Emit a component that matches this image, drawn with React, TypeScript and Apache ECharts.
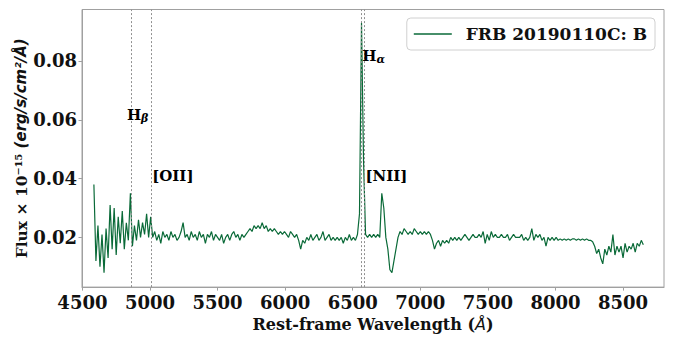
import React, { useEffect, useRef } from 'react';
import * as echarts from 'echarts';

// Spectrum sampling grid (Å) and flux values (10^-15 erg/s/cm^2/Å)
const WAVE_START = 4585;
const WAVE_STEP = 15;
const FLUX = [
  0.038, 0.012, 0.024, 0.010, 0.021, 0.008, 0.023, 0.013, 0.031, 0.016,
  0.030, 0.014, 0.027, 0.018, 0.029, 0.016, 0.025, 0.019, 0.035, 0.017,
  0.024, 0.019, 0.026, 0.020, 0.025, 0.021, 0.028, 0.020, 0.027, 0.020,
  0.022, 0.019, 0.021, 0.018, 0.022, 0.020, 0.021, 0.019, 0.022, 0.020,
  0.021, 0.019, 0.020, 0.022, 0.025, 0.020, 0.021, 0.019, 0.022, 0.020,
  0.021, 0.019, 0.022, 0.020, 0.021, 0.018, 0.021, 0.020, 0.022, 0.019,
  0.021, 0.020, 0.019, 0.021, 0.018, 0.020, 0.021, 0.019, 0.021, 0.022,
  0.020, 0.021, 0.019, 0.021, 0.020, 0.021, 0.022, 0.023, 0.022, 0.024,
  0.023, 0.024, 0.023, 0.025, 0.023, 0.024, 0.022, 0.023, 0.022, 0.023,
  0.022, 0.021, 0.022, 0.021, 0.022, 0.021, 0.020, 0.022, 0.021, 0.020,
  0.021, 0.019, 0.016, 0.019, 0.018, 0.020, 0.019, 0.021, 0.019, 0.020,
  0.021, 0.019, 0.020, 0.022, 0.019, 0.020, 0.021, 0.019, 0.020, 0.019,
  0.020, 0.019, 0.020, 0.018, 0.020, 0.019, 0.021, 0.019, 0.020, 0.019,
  0.021, 0.028, 0.093, 0.046, 0.021, 0.020, 0.021, 0.020, 0.021, 0.020,
  0.021, 0.020, 0.035, 0.030, 0.020, 0.016, 0.009, 0.008, 0.012, 0.016,
  0.020, 0.022, 0.021, 0.023, 0.022, 0.021, 0.022, 0.021, 0.023, 0.022,
  0.021, 0.022, 0.021, 0.022, 0.021, 0.022, 0.021, 0.019, 0.016, 0.018,
  0.019, 0.017, 0.019, 0.018, 0.019, 0.018, 0.020, 0.019, 0.020, 0.019,
  0.020, 0.019, 0.020, 0.021, 0.020, 0.019, 0.020, 0.021, 0.020, 0.020,
  0.021, 0.020, 0.022, 0.018, 0.021, 0.019, 0.022, 0.020, 0.021, 0.020,
  0.020, 0.021, 0.020, 0.020, 0.021, 0.019, 0.020, 0.021, 0.020, 0.020,
  0.020, 0.021, 0.019, 0.020, 0.019, 0.020, 0.023, 0.019, 0.021, 0.020,
  0.021, 0.019, 0.020, 0.017, 0.020, 0.019, 0.020, 0.019, 0.020, 0.019,
  0.0195, 0.019, 0.0195, 0.019, 0.0195, 0.019, 0.0195, 0.0195, 0.019, 0.0195,
  0.019, 0.0195, 0.019, 0.0195, 0.019, 0.019, 0.0185, 0.017, 0.0145, 0.016,
  0.013, 0.011, 0.016, 0.014, 0.017, 0.015, 0.021, 0.014, 0.017, 0.015,
  0.017, 0.013, 0.018, 0.015, 0.017, 0.016, 0.018, 0.015, 0.018, 0.017,
  0.019, 0.0175,
];

const SERIES_NAME = 'FRB 20190110C: B';
const X_TICKS = [4500, 5000, 5500, 6000, 6500, 7000, 7500, 8000, 8500];
const Y_TICKS = [0.02, 0.04, 0.06, 0.08];
const X_LIMITS = [4497, 8803];
const Y_LIMITS = [0.0031, 0.0975];

// Emission line markers (Å)
const LINE_WAVES = [4861, 5007, 6563, 6583];
// Annotation texts and their anchor positions (data coords)
const LABEL_TEXTS = ['H{s|β}', '[OII]', 'H{s|α}', '[NII]'];
const LABEL_WAVES = [4833, 5020, 6574, 6598];
const LABEL_FLUX = [0.06, 0.04, 0.08, 0.04];

const SERIF = 'DejaVu Serif';
const GREEN = '#0a6a38';

export default function App() {
  const ref = useRef<HTMLDivElement>(null);
  useEffect(() => {
    const chart = echarts.init(ref.current!, null, { renderer: 'svg' });
    const spectrum = FLUX.map((f, i) => [WAVE_START + i * WAVE_STEP, f]);
    const labels = LABEL_TEXTS.map((t, i) => ({ value: [LABEL_WAVES[i], LABEL_FLUX[i]], name: t }));
    chart.setOption({
      animation: false,
      backgroundColor: '#ffffff',
      grid: { left: 82, right: 9, top: 9.5, bottom: 46, show: true, borderColor: '#a0a0a0', borderWidth: 1 },
      legend: {
        data: [SERIES_NAME],
        right: 18,
        top: 18,
        padding: [6, 8, 6, 7],
        backgroundColor: '#ffffff',
        borderColor: '#d0d0d0',
        borderWidth: 1,
        borderRadius: 4,
        icon: 'rect',
        itemWidth: 38,
        itemHeight: 1.5,
        itemStyle: { color: GREEN },
        textStyle: { fontFamily: SERIF, fontWeight: 'bold', fontSize: 17, color: '#111', padding: [0, 0, 0, 9], lineHeight: 20 },
      },
      xAxis: {
        type: 'value',
        min: X_LIMITS[0],
        max: X_LIMITS[1],
        name: '{b|Rest-frame Wavelength (}{i|Å}{b|)}',
        nameLocation: 'middle',
        nameGap: 27,
        nameTextStyle: {
          rich: {
            b: { fontFamily: SERIF, fontWeight: 'bold', fontSize: 16, color: '#111' },
            i: { fontFamily: 'DejaVu Sans', fontStyle: 'italic', fontSize: 16, color: '#111' },
          },
        },
        axisLine: { show: true, lineStyle: { color: '#a0a0a0' } },
        axisTick: { show: true, length: 3.5, lineStyle: { color: '#a0a0a0' }, customValues: X_TICKS },
        axisLabel: {
          customValues: X_TICKS,
          margin: 6,
          fontFamily: SERIF,
          fontWeight: 'bold',
          fontSize: 18,
          color: '#111',
          formatter: (v: number) => String(v),
        },
        splitLine: { show: false },
      },
      yAxis: {
        type: 'value',
        min: Y_LIMITS[0],
        max: Y_LIMITS[1],
        name: '{b|Flux × 10⁻¹⁵ }{i|(erg/s/cm²/Å)}',
        nameLocation: 'middle',
        nameGap: 53,
        nameMoveOverlap: false,
        nameTextStyle: {
          rich: {
            b: { fontFamily: SERIF, fontWeight: 'bold', fontSize: 15.5, color: '#111' },
            i: { fontFamily: 'DejaVu Sans', fontStyle: 'italic', fontWeight: 'bold', fontSize: 15, color: '#111' },
          },
        },
        axisLine: { show: true, lineStyle: { color: '#a0a0a0' } },
        axisTick: { show: true, length: 3.5, lineStyle: { color: '#a0a0a0' }, customValues: Y_TICKS },
        axisLabel: {
          customValues: Y_TICKS,
          margin: 5,
          fontFamily: SERIF,
          fontWeight: 'bold',
          fontSize: 18,
          color: '#111',
          formatter: (v: number) => v.toFixed(2),
        },
        splitLine: { show: false },
      },
      series: [
        {
          name: SERIES_NAME,
          type: 'line',
          data: spectrum,
          symbol: 'none',
          showSymbol: false,
          lineStyle: { color: GREEN, width: 1.2 },
          itemStyle: { color: GREEN },
          z: 3,
          markLine: {
            silent: true,
            symbol: 'none',
            label: { show: false },
            lineStyle: { color: '#909090', type: [2, 2], width: 1 },
            data: LINE_WAVES.map((w) => ({ xAxis: w })),
          },
        },
        {
          name: 'labels',
          type: 'scatter',
          data: labels,
          symbolSize: 1,
          itemStyle: { color: 'rgba(0,0,0,0)', opacity: 1 },
          silent: true,
          z: 5,
          label: {
            show: true,
            position: [0, 0],
            align: 'left',
            verticalAlign: 'bottom',
            offset: [0, 5],
            formatter: (p: any) => p.name,
            fontFamily: SERIF,
            fontWeight: 'bold',
            fontSize: 15,
            color: '#000',
            opacity: 1,
            rich: {
              s: { fontFamily: 'DejaVu Serif', fontStyle: 'italic', fontSize: 11, color: '#000', padding: [7, 0, 0, 0] },
            },
          },
        },
      ],
    });
    return () => chart.dispose();
  }, []);
  return <div ref={ref} style={{ position: 'fixed', left: 0, top: 0, width: 673, height: 337 }} />;
}
